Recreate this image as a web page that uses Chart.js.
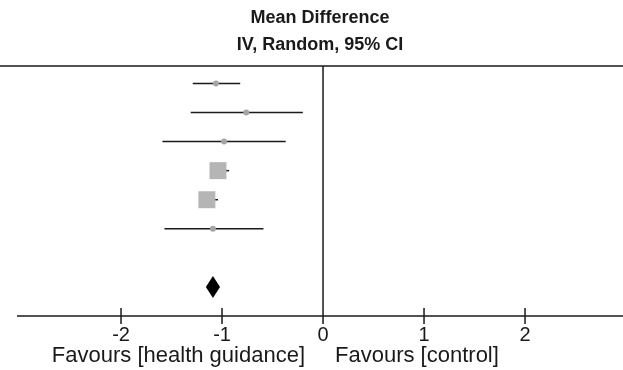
<!DOCTYPE html>
<html>
<head>
<meta charset="utf-8">
<script src="https://cdn.jsdelivr.net/npm/chart.js@4.4.1/dist/chart.umd.min.js"></script>
<style>
    html, body { margin: 0; padding: 0; background: #fff; }
    #wrap { width: 623px; height: 370px; }
</style>
</head>
<body>
<div id="wrap"><canvas id="forest-chart"></canvas></div>
<script>
// study rows (top to bottom), mean difference and 95% CI
const rows = [1, 2, 3, 4, 5, 6]
const means = [-1.06, -0.76, -0.98, -1.04, -1.15, -1.09]
const lower = [-1.29, -1.31, -1.59, -1.11, -1.22, -1.57]
const upper = [-0.82, -0.20, -0.37, -0.93, -1.04, -0.59]
const heavy = [false, false, false, true, true, false]

// pooled estimate (diamond)
const pooledRow = 8
const pooledMean = -1.09
const pooledLower = -1.16
const pooledUpper = -1.02

const tickValues = [-2, -1, 0, 1, 2]
const titleLines = ['Mean Difference', 'IV, Random, 95% CI']
const favoursLeft = 'Favours [health guidance]'
const favoursRight = 'Favours [control]'

const INK = '#1a1a1a'
const MARKER_GREY = '#b5b5b5'
const FONT = "'Liberation Sans', Arial, sans-serif"

const ciDatasets = rows.map((r, i) => ({
    type: 'scatter',
    data: [{ x: lower[i], y: r }, { x: upper[i], y: r }],
    showLine: true,
    borderColor: INK,
    borderWidth: 1.5,
    pointRadius: 0,
    order: 2
}))

const pointDataset = {
    type: 'scatter',
    data: rows.map((r, i) => ({ x: means[i], y: r })),
    pointRadius: heavy.map(h => h ? 12 : 3),
    pointBackgroundColor: heavy.map(h => h ? MARKER_GREY : '#a5a5a5'),
    pointBorderWidth: 0,
    pointStyle: heavy.map(h => h ? 'rect' : 'circle'),
    order: 1
}

const forestFrame = {
    id: 'forestFrame',
    beforeDatasetsDraw(chart) {
        const { ctx, chartArea, scales } = chart
        const x = scales.x
        ctx.save()
        ctx.strokeStyle = INK
        ctx.lineWidth = 1.5
        ctx.beginPath()
        // header rule
        ctx.moveTo(0, chartArea.top)
        ctx.lineTo(chart.width, chartArea.top)
        // line of no effect
        ctx.moveTo(x.getPixelForValue(0), chartArea.top)
        ctx.lineTo(x.getPixelForValue(0), chartArea.bottom)
        // axis
        ctx.moveTo(chartArea.left, chartArea.bottom)
        ctx.lineTo(chartArea.right, chartArea.bottom)
        tickValues.forEach(v => {
            const px = x.getPixelForValue(v)
            ctx.moveTo(px, chartArea.bottom - 8)
            ctx.lineTo(px, chartArea.bottom + 8)
        })
        ctx.stroke()
        ctx.restore()
    },
    afterDatasetsDraw(chart) {
        const { ctx, chartArea, scales } = chart
        const x = scales.x, y = scales.y
        const cy = y.getPixelForValue(pooledRow)
        ctx.save()
        ctx.fillStyle = '#000'
        ctx.beginPath()
        ctx.moveTo(x.getPixelForValue(pooledLower), cy)
        ctx.lineTo(x.getPixelForValue(pooledMean), cy - 11)
        ctx.lineTo(x.getPixelForValue(pooledUpper), cy)
        ctx.lineTo(x.getPixelForValue(pooledMean), cy + 11)
        ctx.closePath()
        ctx.fill()

        const zero = x.getPixelForValue(0)
        ctx.fillStyle = INK
        ctx.font = '22px ' + FONT
        ctx.textBaseline = 'middle'
        ctx.textAlign = 'right'
        ctx.fillText(favoursLeft, zero - 18, chartArea.bottom + 40)
        ctx.textAlign = 'left'
        ctx.fillText(favoursRight, zero + 12, chartArea.bottom + 40)
        ctx.restore()
    }
}

new Chart(document.getElementById('forest-chart'), {
    data: { datasets: [pointDataset, ...ciDatasets] },
    options: {
        responsive: true,
        maintainAspectRatio: false,
        animation: false,
        layout: { autoPadding: false, padding: { left: 17, right: 0, top: 0, bottom: 16 } },
        plugins: {
            legend: { display: false },
            tooltip: { enabled: false },
            title: {
                display: true,
                text: titleLines,
                color: INK,
                font: { family: FONT, size: 18, weight: 'bold', lineHeight: 1.5 },
                padding: { top: 5, bottom: 7 }
            }
        },
        scales: {
            x: {
                type: 'linear',
                min: -3.03,
                max: 2.97,
                afterBuildTicks: axis => { axis.ticks = tickValues.map(v => ({ value: v })) },
                grid: { display: false, drawTicks: false },
                border: { display: false },
                ticks: { color: INK, padding: 7, font: { family: FONT, size: 20 } }
            },
            y: {
                type: 'linear',
                reverse: true,
                min: 0.4,
                max: 9,
                display: false
            }
        }
    },
    plugins: [forestFrame]
})
</script>
</body>
</html>
